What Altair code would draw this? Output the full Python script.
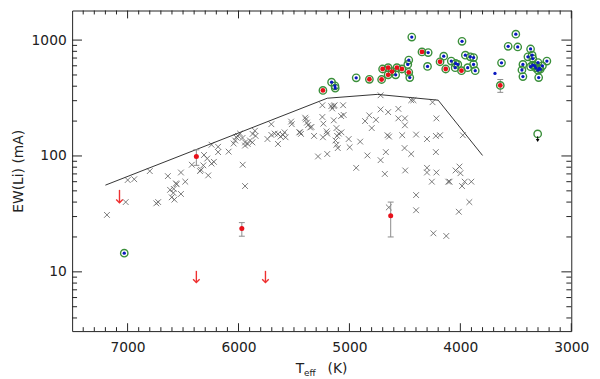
import altair as alt
import pandas as pd

# ---- data ----
cross_teff = [7186, 7017, 6999, 6940, 6800, 6741, 6724, 6637, 6519, 6480, 6564, 6617, 6584, 6587, 6602,
              6578, 6519, 6558, 6421, 6338, 6347, 6317, 6273, 6311, 6282, 6243, 6184, 6184, 6222, 6243,
              6089, 5962, 5941, 6030, 6006, 5986, 5964, 5941, 5917, 5897, 5875, 5852, 5846, 6044, 5941,
              5873, 5704, 5739, 5704, 5674, 5644, 5621, 5600, 5585, 5576, 5644, 5526, 5520, 5452, 5437,
              5399, 5383, 5372, 5354, 5342, 5319, 5244, 5244, 5235, 5239, 5206, 5200, 5164, 5141, 5155,
              5134, 5141, 5117, 5096, 5111, 5075, 5052, 5057, 5126, 5117, 5105, 5283, 5200, 5007, 4998,
              5392, 5446, 4719, 4443, 4423, 4251, 5072, 4903, 4719, 4651, 4559, 4821, 4859, 4761, 4799,
              4559, 4500, 4500, 4657, 4643, 4524, 4399, 4301, 4216, 4221, 4183, 3978, 4838, 4672, 4719,
              4503, 4443, 4221, 4939, 4681, 4497, 4301, 4301, 4216, 4257, 4109, 4097, 4043, 4008, 3999,
              3961, 3901, 3985, 4399, 4399, 4645, 3919, 4014, 4243, 4127, 6021]
cross_ew = [31, 40, 62, 63, 74, 39, 40, 67, 72, 60, 58, 51, 52, 48, 44,
            42, 47, 57, 84, 76, 74, 83, 68, 102, 95, 125, 120, 108, 89, 86,
            109, 84, 55, 136, 149, 156, 143, 131, 127, 136, 131, 165, 149, 128, 123,
            155, 188, 140, 152, 156, 155, 147, 152, 160, 145, 127, 198, 188, 160, 155,
            214, 194, 185, 176, 178, 149, 274, 217, 190, 145, 163, 156, 269, 269, 257,
            274, 203, 174, 156, 149, 221, 226, 274, 136, 125, 117, 99, 104, 140, 119,
            207, 160, 334, 303, 303, 291, 160, 133, 252, 239, 255, 224, 200, 205, 174,
            211, 211, 184, 151, 147, 151, 153, 140, 211, 149, 151, 151, 101, 108, 92,
            117, 104, 108, 79, 70, 75, 79, 72, 72, 60, 60, 60, 75, 81, 71,
            60, 60, 55, 46, 34, 36, 40, 33, 21.5, 20.4, 145]

blue_teff = [7030, 5161, 5131, 5128, 4939, 4583, 4474, 4465, 4456, 4438, 4290, 4296, 4150, 4082, 4043,
             4023, 4047, 3985, 3955, 3910, 3881, 3934, 3881, 3866, 3629, 3569, 3500, 3483, 3367, 3391,
             3353, 3347, 3436, 3445, 3436, 3367, 3347, 3288, 3220, 3294, 3330, 3300, 3280, 3260, 3300, 3320]
blue_ew = [14.5, 433, 403, 385, 472, 501, 617, 672, 475, 1061, 780, 593, 726, 659, 628,
           617, 578, 975, 741, 717, 706, 578, 617, 545, 637, 883, 1125, 872, 838, 717,
           741, 693, 617, 552, 484, 589, 609, 570, 659, 475, 600, 640, 560, 600, 550, 575]

red_ring_teff = [5239, 4820, 4710, 4701, 4651, 4651, 4616, 4572, 4527, 4465, 4346, 4183, 4132, 3990, 3640]
red_ring_ew = [368, 459, 457, 563, 578, 501, 535, 578, 563, 527, 791, 650, 563, 545, 406]

plain_blue_teff = [3688]
plain_blue_ew = [516]

err_teff = [6380, 5970, 4628, 3640]
err_ew = [99, 23.7, 30.5, 406]
err_lo = [83, 20.3, 20, 354]
err_hi = [113, 26.6, 40, 457]
plain_red_teff = [6380, 5970, 4628]
plain_red_ew = [99, 23.7, 30.5]

lim_teff = [7073, 6380, 5757]
lim_top = [51, 10.2, 10.2]
lim_tip = [39.5, 8.1, 8.1]

open_lim_teff = [3303]
open_lim_ew = [155]
open_lim_from = [148]
open_lim_tip = [136]

env_teff = [7200, 5200, 4750, 4200, 3800]
env_ew = [56, 315, 340, 303, 101]

x_major = [7000, 6000, 5000, 4000, 3000]
x_minor = [t for t in range(3100, 7500, 100) if t % 1000 != 0]
y_major = [10, 100, 1000]
y_minor = [4, 5, 6, 7, 8, 9, 20, 30, 40, 50, 60, 70, 80, 90, 200, 300, 400, 500, 600, 700, 800, 900]

# ---- chart ----
W, H = 506, 325
FONT = "DejaVu Sans"
xs = alt.Scale(domain=[3000, 7500], reverse=True, nice=False, zero=False)
ys = alt.Scale(type="log", domain=[3.08, 1800], nice=False)
XPATH = "M-1,-1L1,1M-1,1L1,-1"

AX_X = alt.Axis(values=x_major, format="d", ticks=False, domain=False, grid=False,
                labelFontSize=14, labelPadding=10, labelFlush=False, title=None,
                labelColor="#222222")
AX_Y = alt.Axis(values=y_major, format="d", ticks=False, domain=False, grid=False,
                labelFontSize=14, labelPadding=6, labelFlush=False, labelColor="#222222",
                title="EW(Li)  (mA)", titleFontSize=14, titleFontWeight="normal",
                titlePadding=6, titleColor="#222222")


def xq(f):
    return alt.X(f"{f}:Q", scale=xs, axis=AX_X)


def yq(f):
    return alt.Y(f"{f}:Q", scale=ys, axis=AX_Y)


crosses_df = pd.DataFrame({"teff": cross_teff, "ew": cross_ew})
blue_df = pd.DataFrame({"teff": blue_teff, "ew": blue_ew})
redring_df = pd.DataFrame({"teff": red_ring_teff, "ew": red_ring_ew})
pblue_df = pd.DataFrame({"teff": plain_blue_teff, "ew": plain_blue_ew})
err_df = pd.DataFrame({"teff": err_teff, "ew": err_ew, "lo": err_lo, "hi": err_hi})
pred_df = pd.DataFrame({"teff": plain_red_teff, "ew": plain_red_ew})
lim_df = pd.DataFrame({"teff": lim_teff, "top": lim_top, "tip": lim_tip})
olim_df = pd.DataFrame({"teff": open_lim_teff, "ew": open_lim_ew, "fr": open_lim_from, "tip": open_lim_tip})
env_df = pd.DataFrame({"teff": env_teff, "ew": env_ew, "i": list(range(len(env_teff)))})
xmaj_df = pd.DataFrame({"teff": x_major})
xmin_df = pd.DataFrame({"teff": x_minor})
ymaj_df = pd.DataFrame({"ew": y_major})
ymin_df = pd.DataFrame({"ew": y_minor})
one_df = pd.DataFrame({"a": [0]})

crosses = alt.Chart(crosses_df).mark_point(
    shape=XPATH, filled=False, size=34, stroke="#5a5a5a", strokeWidth=0.8, opacity=1
).encode(x=xq("teff"), y=yq("ew"))

env = alt.Chart(env_df).mark_line(color="#333333", strokeWidth=1).encode(
    x=xq("teff"), y=yq("ew"), order="i:Q")

ebar = alt.Chart(err_df).mark_rule(color="#8a8a8a", strokeWidth=1).encode(
    x=xq("teff"), y=yq("lo"), y2="hi:Q")
cap_lo = alt.Chart(err_df).mark_point(shape="M-1,0L1,0", size=36, filled=False,
                                      stroke="#8a8a8a", strokeWidth=1, opacity=1).encode(
    x=xq("teff"), y=yq("lo"))
cap_hi = alt.Chart(err_df).mark_point(shape="M-1,0L1,0", size=36, filled=False,
                                      stroke="#8a8a8a", strokeWidth=1, opacity=1).encode(
    x=xq("teff"), y=yq("hi"))

ring_style = dict(shape="circle", filled=False, size=56, stroke="#3a8f3a", strokeWidth=1.4, opacity=1)
ring_blue = alt.Chart(blue_df).mark_point(**ring_style).encode(x=xq("teff"), y=yq("ew"))
ring_red = alt.Chart(redring_df).mark_point(**ring_style).encode(x=xq("teff"), y=yq("ew"))
ring_open = alt.Chart(olim_df).mark_point(**ring_style).encode(x=xq("teff"), y=yq("ew"))

red_dots = alt.Chart(redring_df).mark_circle(size=24, color="#e8101a", opacity=1).encode(
    x=xq("teff"), y=yq("ew"))
red_plain = alt.Chart(pred_df).mark_circle(size=26, color="#e8101a", opacity=1).encode(
    x=xq("teff"), y=yq("ew"))
blue_dots = alt.Chart(blue_df).mark_circle(size=11, color="#0a18c0", opacity=1).encode(
    x=xq("teff"), y=yq("ew"))
blue_plain = alt.Chart(pblue_df).mark_circle(size=11, color="#0a18c0", opacity=1).encode(
    x=xq("teff"), y=yq("ew"))

lim_shaft = alt.Chart(lim_df).mark_rule(color="#ee3030", strokeWidth=1.4).encode(
    x=xq("teff"), y=yq("top"), y2="tip:Q")
lim_head = alt.Chart(lim_df).mark_point(shape="M-1,-1L0,0L1,-1", size=44, filled=False,
                                        stroke="#ee3030", strokeWidth=1.4, opacity=1).encode(
    x=xq("teff"), y=yq("tip"))
olim_shaft = alt.Chart(olim_df).mark_rule(color="#000000", strokeWidth=1).encode(
    x=xq("teff"), y=yq("fr"), y2="tip:Q")
olim_head = alt.Chart(olim_df).mark_point(shape="triangle-down", size=14, filled=True,
                                          color="#000000", opacity=1).encode(
    x=xq("teff"), y=yq("tip"))

tick_col = "#222222"
xb_maj = alt.Chart(xmaj_df).mark_rule(color=tick_col).encode(x=xq("teff"), y=alt.value(H), y2=alt.value(H - 8))
xb_min = alt.Chart(xmin_df).mark_rule(color=tick_col).encode(x=xq("teff"), y=alt.value(H), y2=alt.value(H - 4))
xt_maj = alt.Chart(xmaj_df).mark_rule(color=tick_col).encode(x=xq("teff"), y=alt.value(0), y2=alt.value(8))
xt_min = alt.Chart(xmin_df).mark_rule(color=tick_col).encode(x=xq("teff"), y=alt.value(0), y2=alt.value(4))
yl_maj = alt.Chart(ymaj_df).mark_rule(color=tick_col).encode(y=yq("ew"), x=alt.value(0), x2=alt.value(10))
yl_min = alt.Chart(ymin_df).mark_rule(color=tick_col).encode(y=yq("ew"), x=alt.value(0), x2=alt.value(5))
yr_maj = alt.Chart(ymaj_df).mark_rule(color=tick_col).encode(y=yq("ew"), x=alt.value(W), x2=alt.value(W - 10))
yr_min = alt.Chart(ymin_df).mark_rule(color=tick_col).encode(y=yq("ew"), x=alt.value(W), x2=alt.value(W - 5))

t_main = alt.Chart(one_df).mark_text(text="T", font=FONT, fontSize=14, color="#222222",
                                     align="center", baseline="middle").encode(
    x=alt.value(231), y=alt.value(363))
t_sub = alt.Chart(one_df).mark_text(text="eff", font=FONT, fontSize=9, color="#222222",
                                    align="center", baseline="middle").encode(
    x=alt.value(241), y=alt.value(368))
t_unit = alt.Chart(one_df).mark_text(text="(K)", font=FONT, fontSize=14, color="#222222",
                                     align="center", baseline="middle").encode(
    x=alt.value(269), y=alt.value(363))

chart = alt.layer(
    crosses, env, ebar, cap_lo, cap_hi,
    ring_blue, ring_red, ring_open,
    red_dots, red_plain, blue_dots, blue_plain,
    lim_shaft, lim_head, olim_shaft, olim_head,
    xb_maj, xb_min, xt_maj, xt_min, yl_maj, yl_min, yr_maj, yr_min,
    t_main, t_sub, t_unit,
).properties(
    width=W, height=H,
    autosize=alt.AutoSizeParams(type="none"),
    padding={"left": 65, "top": 0, "right": 21, "bottom": 46},
).configure_view(
    stroke="#222222", strokeWidth=1
).configure_axis(
    labelFont=FONT, titleFont=FONT
)

chart.save("out.html", embed_options={"renderer": "svg", "actions": False})
